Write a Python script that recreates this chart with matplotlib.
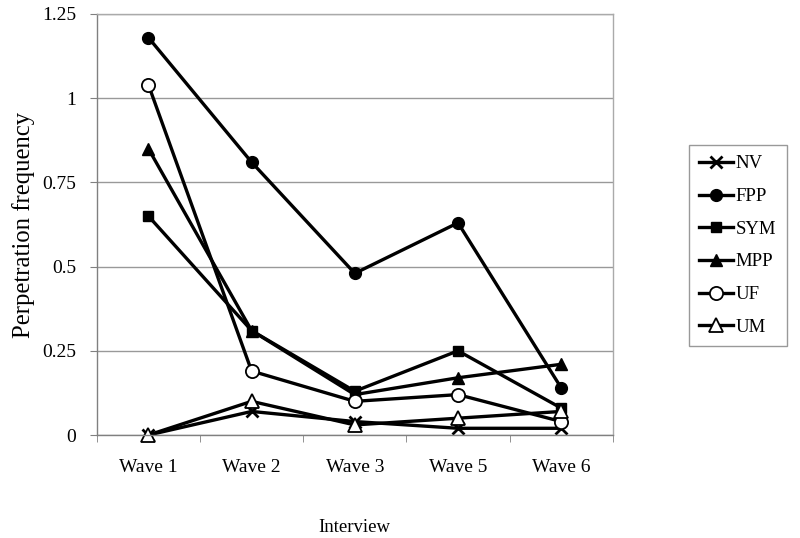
import matplotlib
matplotlib.use("Agg")
import matplotlib.pyplot as plt
import numpy as np

waves = ["Wave 1", "Wave 2", "Wave 3", "Wave 5", "Wave 6"]
NV = [0.0, 0.07, 0.04, 0.02, 0.02]
FPP = [1.18, 0.81, 0.48, 0.63, 0.14]
SYM = [0.65, 0.31, 0.13, 0.25, 0.08]
MPP = [0.85, 0.31, 0.12, 0.17, 0.21]
UF = [1.04, 0.19, 0.10, 0.12, 0.04]
UM = [0.0, 0.10, 0.03, 0.05, 0.07]
yticks = [0, 0.25, 0.5, 0.75, 1, 1.25]
ytick_labels = ["0", "0.25", "0.5", "0.75", "1", "1.25"]

plt.rcParams['font.family'] = ['Liberation Serif', 'DejaVu Serif']

fig = plt.figure(figsize=(8, 5.38), dpi=100)
ax = fig.add_axes([0.121, 0.1914, 0.645, 0.7826])

x = np.arange(len(waves))
series = [
    ("NV", NV, dict(marker='x', markersize=9, markeredgewidth=2)),
    ("FPP", FPP, dict(marker='o', markersize=8.5, markerfacecolor='black', markeredgecolor='black')),
    ("SYM", SYM, dict(marker='s', markersize=7.5, markerfacecolor='black', markeredgecolor='black')),
    ("MPP", MPP, dict(marker='^', markersize=9, markerfacecolor='black', markeredgecolor='black')),
    ("UF", UF, dict(marker='o', markersize=9.5, markerfacecolor='white', markeredgecolor='black', markeredgewidth=1.3)),
    ("UM", UM, dict(marker='^', markersize=9.5, markerfacecolor='white', markeredgecolor='black', markeredgewidth=1.3)),
]
for name, vals, style in series:
    ax.plot(x, vals, color='black', linewidth=2.4, label=name, clip_on=False, **style)

ax.set_xlim(-0.5, len(waves) - 0.5)
ax.set_ylim(0, 1.25)
ax.set_yticks(yticks)
ax.set_yticklabels(ytick_labels, fontsize=14)
ax.set_xticks(x)
ax.set_xticklabels(waves, fontsize=14)
ax.set_xticks(np.arange(len(waves) + 1) - 0.5, minor=True)
ax.tick_params(axis='x', which='major', length=0, pad=17)
ax.tick_params(axis='x', which='minor', length=5, color='#808080', direction='out')
ax.tick_params(axis='y', length=5, color='#808080', direction='out', pad=10)
ax.yaxis.grid(True, color='#999999', linewidth=1)
ax.set_axisbelow(True)
for s in ['top', 'right']:
    ax.spines[s].set_color('#aaaaaa')
    ax.spines[s].set_linewidth(1)
for s in ['left', 'bottom']:
    ax.spines[s].set_color('#808080')
    ax.spines[s].set_linewidth(1)

ax.set_ylabel("Perpetration frequency", fontsize=17.8, labelpad=5)
ax.set_xlabel("Interview", fontsize=13.5, labelpad=31)

leg = fig.legend(loc='upper left', bbox_to_anchor=(689 / 800, 1 - 145 / 538), fontsize=13.5,
                 frameon=True, fancybox=False, edgecolor='#808080',
                 handlelength=1.8, labelspacing=0.83, borderpad=0.55,
                 handletextpad=0.15, borderaxespad=0)
leg.get_frame().set_linewidth(1)

fig.savefig("out.png", dpi=100)
